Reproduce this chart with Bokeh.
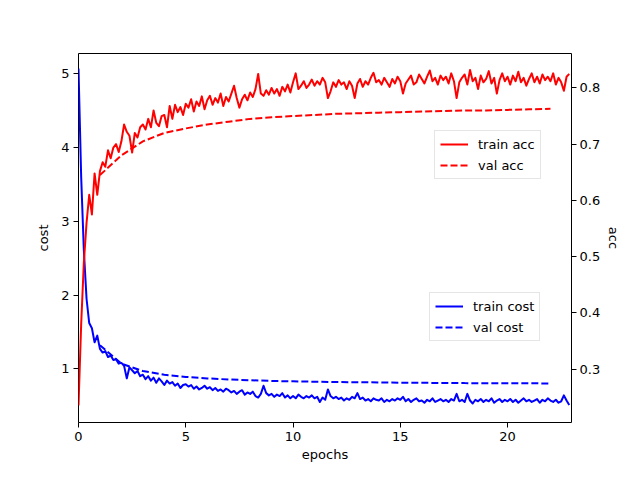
from bokeh.plotting import figure
from bokeh.models import Range1d, LinearAxis, Legend, LegendItem, FixedTicker
from bokeh.embed import file_html
from bokeh.resources import INLINE

# ---------------- data ----------------
steps_per_epoch = 8

train_acc = [
    0.235, 0.38, 0.49, 0.56, 0.61, 0.575, 0.648, 0.61,
    0.652, 0.668, 0.66, 0.689, 0.675, 0.694, 0.70, 0.686,
    0.705, 0.735, 0.722, 0.715, 0.685, 0.72, 0.712, 0.73,
    0.735, 0.726, 0.745, 0.73, 0.76, 0.738, 0.732, 0.75,
    0.752, 0.73, 0.768, 0.745, 0.77, 0.757, 0.766, 0.752,
    0.772, 0.765, 0.78, 0.758, 0.776, 0.768, 0.785, 0.762,
    0.778, 0.786, 0.77, 0.782, 0.774, 0.79, 0.768, 0.784,
    0.776, 0.79, 0.804, 0.782, 0.765, 0.78, 0.788, 0.778,
    0.792, 0.784, 0.798, 0.825, 0.79, 0.786, 0.796, 0.788,
    0.80, 0.79, 0.798, 0.786, 0.802, 0.794, 0.806, 0.792,
    0.81, 0.826, 0.798, 0.804, 0.812, 0.80, 0.806, 0.815,
    0.804, 0.812, 0.806, 0.818, 0.81, 0.782, 0.794, 0.81,
    0.802, 0.814, 0.806, 0.81, 0.798, 0.812, 0.804, 0.782,
    0.808, 0.816, 0.802, 0.812, 0.806, 0.818, 0.827, 0.81,
    0.814, 0.806, 0.818, 0.81, 0.802, 0.816, 0.808, 0.82,
    0.812, 0.79, 0.808, 0.815, 0.822, 0.806, 0.81, 0.824,
    0.816, 0.808, 0.82, 0.831, 0.812, 0.818, 0.806, 0.822,
    0.814, 0.82, 0.808, 0.826, 0.812, 0.782, 0.81, 0.818,
    0.824, 0.806, 0.832, 0.812, 0.818, 0.798, 0.822, 0.81,
    0.816, 0.83, 0.808, 0.818, 0.79, 0.814, 0.826, 0.812,
    0.82, 0.806, 0.822, 0.812, 0.829, 0.81, 0.818, 0.804,
    0.816, 0.826, 0.81, 0.82, 0.808, 0.824, 0.814, 0.82,
    0.812, 0.826, 0.806, 0.818, 0.81, 0.795, 0.82, 0.825,
]

train_cost = [
    5.07, 3.6, 2.6, 1.95, 1.62, 1.55, 1.36, 1.45,
    1.27, 1.22, 1.24, 1.16, 1.18, 1.12, 1.13, 1.07,
    1.08, 1.04, 0.87, 1.02, 0.98, 0.94, 0.97, 0.90,
    0.92, 0.86, 0.90, 0.84, 0.88, 0.81, 0.87, 0.83,
    0.78, 0.84, 0.80, 0.82, 0.77, 0.80, 0.74, 0.78,
    0.79, 0.76, 0.78, 0.73, 0.76, 0.72, 0.74, 0.77,
    0.73, 0.75, 0.71, 0.74, 0.70, 0.72, 0.69, 0.73,
    0.71, 0.68, 0.70, 0.66, 0.69, 0.71, 0.65, 0.68,
    0.66, 0.69, 0.63, 0.61, 0.66, 0.77, 0.67, 0.64,
    0.66, 0.62, 0.65, 0.63, 0.67, 0.61, 0.64, 0.60,
    0.63, 0.60, 0.65, 0.62, 0.60, 0.63, 0.61, 0.64,
    0.60, 0.62, 0.55, 0.61, 0.58, 0.72, 0.63, 0.60,
    0.62, 0.59, 0.61, 0.57, 0.60, 0.58, 0.62, 0.60,
    0.67, 0.59, 0.61, 0.57, 0.59, 0.56, 0.60, 0.58,
    0.57, 0.60, 0.55, 0.58, 0.56, 0.59, 0.57, 0.60,
    0.58, 0.62, 0.56, 0.59, 0.55, 0.58, 0.60, 0.56,
    0.57, 0.54, 0.58, 0.56, 0.60, 0.55, 0.57, 0.59,
    0.56, 0.58, 0.55, 0.59, 0.57, 0.66, 0.56, 0.58,
    0.55, 0.66, 0.57, 0.53, 0.58, 0.56, 0.59, 0.55,
    0.58, 0.56, 0.60, 0.54, 0.57, 0.59, 0.55, 0.58,
    0.56, 0.59, 0.55, 0.58, 0.54, 0.57, 0.60, 0.56,
    0.58, 0.55, 0.57, 0.59, 0.54, 0.58, 0.56, 0.60,
    0.57, 0.55, 0.58, 0.54, 0.56, 0.64, 0.57, 0.51,
]

val_epochs = [1, 2, 3, 4, 5, 6, 7, 8, 9, 10, 11, 12, 13, 14, 15, 16, 17, 18, 19, 20, 21, 22]
val_acc = [0.645, 0.68, 0.705, 0.72, 0.728, 0.735, 0.74, 0.745, 0.748, 0.75, 0.752,
           0.754, 0.755, 0.756, 0.757, 0.758, 0.759, 0.76, 0.76, 0.761, 0.762, 0.763]
val_cost = [1.32, 1.07, 0.97, 0.92, 0.89, 0.87, 0.855, 0.845, 0.835, 0.83, 0.825,
            0.82, 0.818, 0.815, 0.812, 0.81, 0.808, 0.806, 0.805, 0.804, 0.803, 0.802]

x_ticks = [0, 5, 10, 15, 20]
cost_ticks = [1, 2, 3, 4, 5]
acc_ticks = [0.3, 0.4, 0.5, 0.6, 0.7, 0.8]

train_epochs = [i / steps_per_epoch for i in range(len(train_acc))]

FONT = "DejaVu Sans"
FS = "13px"

p = figure(width=624, height=464, output_backend="svg", toolbar_location=None,
           x_range=Range1d(0, 22.98), y_range=Range1d(0.272, 5.275),
           min_border_left=78, min_border_right=46, min_border_top=53, min_border_bottom=42,
           background_fill_color="white", border_fill_color="white")
p.extra_y_ranges = {"acc": Range1d(0.2049, 0.8613)}
p.grid.visible = False
p.outline_line_color = "black"
p.outline_line_width = 1
p.outline_line_alpha = 1

p.xaxis.ticker = FixedTicker(ticks=x_ticks)
p.yaxis.ticker = FixedTicker(ticks=cost_ticks)
p.xaxis.axis_label = "epochs"
p.yaxis.axis_label = "cost"

acc_axis = LinearAxis(y_range_name="acc", axis_label="acc", ticker=FixedTicker(ticks=acc_ticks))
p.add_layout(acc_axis, "right")

for ax in [p.xaxis[0], p.yaxis[0], acc_axis]:
    ax.axis_line_color = None
    ax.major_tick_out = 5
    ax.major_tick_in = 0
    ax.major_tick_line_color = "black"
    ax.minor_tick_line_color = None
    ax.major_label_text_font = FONT
    ax.major_label_text_font_size = FS
    ax.major_label_text_color = "black"
    ax.major_label_standoff = 4
    ax.axis_label_text_font = FONT
    ax.axis_label_text_font_size = FS
    ax.axis_label_text_font_style = "normal"
    ax.axis_label_text_color = "black"
    ax.axis_label_standoff = 7

p.xaxis[0].axis_label_standoff = 3
acc_axis.major_label_standoff = 3
acc_axis.axis_label_standoff = 3

r_tc = p.line(train_epochs, train_cost, line_color="blue", line_width=2, line_join="round")
r_vc = p.line(val_epochs, val_cost, line_color="blue", line_width=2, line_dash="7 3")
r_ta = p.line(train_epochs, train_acc, line_color="red", line_width=2, line_join="round",
              y_range_name="acc")
r_va = p.line(val_epochs, val_acc, line_color="red", line_width=2, line_dash="7 3",
              y_range_name="acc")


def make_legend(items, loc):
    lg = Legend(items=items, location=loc, orientation="vertical")
    lg.label_text_font = FONT
    lg.label_text_font_size = FS
    lg.label_text_color = "black"
    lg.glyph_width = 28
    lg.glyph_height = 16
    lg.label_height = 16
    lg.label_standoff = 10
    lg.spacing = 5
    lg.padding = 5
    lg.margin = 0
    lg.border_line_color = "#cccccc"
    lg.border_line_width = 1
    lg.background_fill_color = "white"
    lg.background_fill_alpha = 0.8
    return lg


leg_acc = make_legend([LegendItem(label="train acc", renderers=[r_ta]),
                       LegendItem(label="val acc", renderers=[r_va])], (356, 243))
leg_cost = make_legend([LegendItem(label="train cost", renderers=[r_tc]),
                        LegendItem(label="val cost", renderers=[r_vc])], (351, 81))
p.add_layout(leg_acc, "center")
p.add_layout(leg_cost, "center")

open("out.html", "w").write(file_html(p, INLINE))
